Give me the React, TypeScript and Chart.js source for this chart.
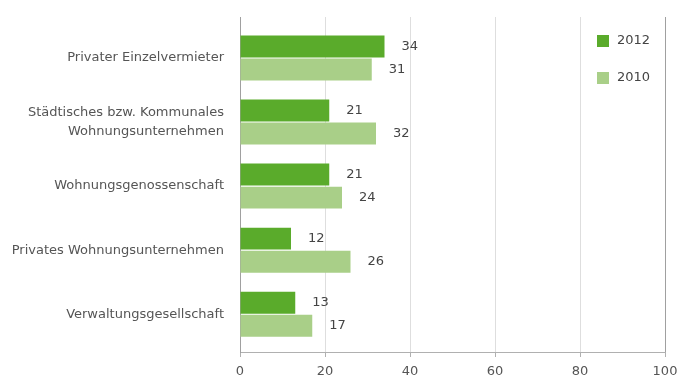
import React, { useEffect, useRef } from "react";
import { Chart, registerables } from "chart.js";

Chart.register(...registerables);

const categories: string[] = [
  "Privater Einzelvermieter",
  "Städtisches bzw. Kommunales\nWohnungsunternehmen",
  "Wohnungsgenossenschaft",
  "Privates Wohnungsunternehmen",
  "Verwaltungsgesellschaft",
];
const seriesNames: string[] = ["2012", "2010"];
const values2012: number[] = [34, 21, 21, 12, 13];
const values2010: number[] = [31, 32, 24, 26, 17];
const xTicks: number[] = [0, 20, 40, 60, 80, 100];

const DARK = "#5aab2b";
const LIGHT = "#a9cf88";
const TEXT = "#555555";
const FONT = "'DejaVu Sans', Verdana, sans-serif";

const valueLabels = {
  id: "valueLabels",
  afterDatasetsDraw(chart: any) {
    const ctx = chart.ctx;
    ctx.save();
    ctx.font = `13px ${FONT}`;
    ctx.fillStyle = "#444444";
    ctx.textAlign = "left";
    ctx.textBaseline = "middle";
    chart.data.datasets.forEach((ds: any, di: number) => {
      const meta = chart.getDatasetMeta(di);
      meta.data.forEach((el: any, i: number) => {
        const v = ds.data[i].x;
        ctx.fillText(String(v), el.x + 17, el.y);
      });
    });
    ctx.restore();
  },
};

const innerLegend = {
  id: "innerLegend",
  afterDraw(chart: any) {
    const ctx = chart.ctx;
    const area = chart.chartArea;
    ctx.save();
    ctx.font = `13px ${FONT}`;
    ctx.textAlign = "left";
    ctx.textBaseline = "middle";
    chart.data.datasets.forEach((ds: any, i: number) => {
      const bx = area.right - 68;
      const cy = area.top + 24 + i * 37;
      ctx.fillStyle = ds.backgroundColor;
      ctx.fillRect(bx, cy - 6, 12, 12);
      ctx.fillStyle = "#444444";
      ctx.fillText(ds.label, bx + 20, cy);
    });
    ctx.restore();
  },
};

export default function App() {
  const ref = useRef<HTMLCanvasElement | null>(null);
  useEffect(() => {
    if (!ref.current) return;
    const toData = (arr: number[]) => arr.map((v, i) => ({ x: v, y: i }));
    const chart = new Chart(ref.current, {
      type: "bar",
      data: {
        datasets: [
          {
            label: seriesNames[0],
            data: toData(values2012),
            backgroundColor: DARK,
            categoryPercentage: 0.72,
            barPercentage: 0.95,
          } as any,
          {
            label: seriesNames[1],
            data: toData(values2010),
            backgroundColor: LIGHT,
            categoryPercentage: 0.72,
            barPercentage: 0.95,
          } as any,
        ],
      },
      options: {
        indexAxis: "y",
        responsive: false,
        animation: false,
        layout: { padding: { top: 17, right: 13, left: 0, bottom: 0 } },
        plugins: {
          legend: { display: false },
          tooltip: { enabled: false },
        },
        scales: {
          x: {
            type: "linear",
            position: "bottom",
            min: xTicks[0],
            max: xTicks[xTicks.length - 1],
            afterBuildTicks: (scale: any) => {
              scale.ticks = xTicks.map((v) => ({ value: v }));
            },
            ticks: {
              color: TEXT,
              font: { family: FONT, size: 13 },
              padding: 7,
              maxRotation: 0,
            },
            grid: {
              color: (c: any) =>
                c.tick && c.tick.value === 100
                  ? "#a0a0a0"
                  : c.tick && c.tick.value === 0
                  ? "rgba(0,0,0,0)"
                  : "#dedede",
              tickColor: "#b0b0b0",
              tickLength: 5,
              lineWidth: 1,
            },
            border: { display: true, color: "#b0b0b0", width: 1 },
            afterFit: (scale: any) => {
              scale.height = 26;
              scale.paddingLeft = 0;
              scale.paddingRight = 0;
            },
          },
          y: {
            type: "linear",
            reverse: true,
            offset: false,
            min: -0.64,
            max: 4.59,
            ticks: {
              stepSize: 1,
              includeBounds: false,
              autoSkip: false,
              color: TEXT,
              font: { family: FONT, size: 13, lineHeight: 1.5 },
              padding: 16,
              callback: (value: any) => {
                const v = Number(value);
                if (Number.isInteger(v) && v >= 0 && v < categories.length) {
                  return categories[v].split("\n");
                }
                return "";
              },
            },
            grid: { display: false, drawTicks: false, offset: false },
            border: { display: true, color: "#a0a0a0", width: 1 },
            afterFit: (scale: any) => {
              scale.width = 240;
              scale.paddingTop = 0;
              scale.paddingBottom = 0;
            },
          },
        },
      } as any,
      plugins: [valueLabels, innerLegend],
    });
    return () => chart.destroy();
  }, []);
  return (
    <div style={{ position: "absolute", left: 0, top: 0, width: 678, height: 378, background: "#fff" }}>
      <canvas ref={ref} width={678} height={378} style={{ display: "block" }} />
    </div>
  );
}
